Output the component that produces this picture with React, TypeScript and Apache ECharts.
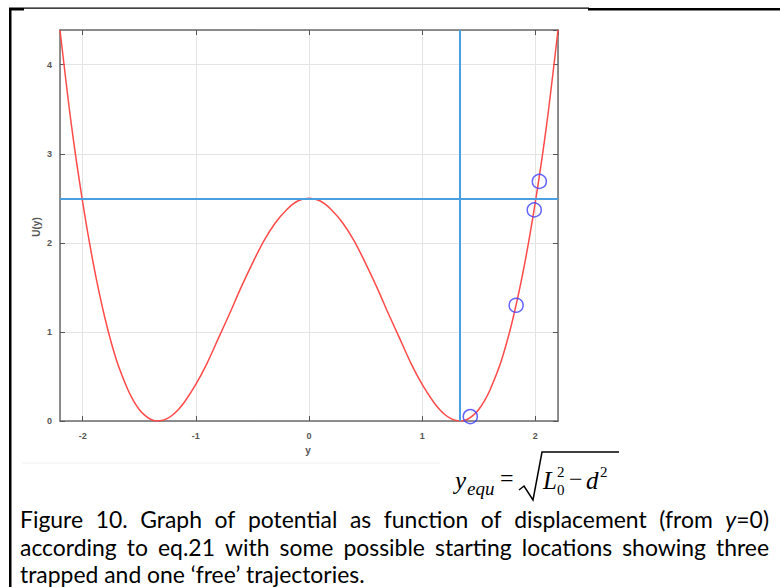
import { useEffect, useRef } from "react";
import * as echarts from "echarts";

// Displacement y (x-axis) and potential U(y)
const yValues = [
  -2.2, -2.1, -2.0, -1.9, -1.8, -1.7, -1.6, -1.55, -1.5, -1.45, -1.4, -1.35, -1.3, -1.25, -1.2, -1.15, -1.1, -1.0,
  -0.9, -0.8, -0.7, -0.6, -0.5, -0.4, -0.3, -0.2, -0.1, 0, 0.1, 0.2, 0.3, 0.4, 0.5, 0.6, 0.7, 0.8, 0.9, 1.0,
  1.1, 1.15, 1.2, 1.25, 1.3, 1.35, 1.4, 1.45, 1.5, 1.55, 1.6, 1.7, 1.8, 1.9, 2.0, 2.1, 2.2,
];
const uValues = [
  4.39, 3.33, 2.46, 1.73, 1.14, 0.68, 0.35, 0.226, 0.13, 0.063, 0.02, 0.001, 0.005, 0.029, 0.073, 0.135, 0.213, 0.41,
  0.65, 0.93, 1.21, 1.5, 1.77, 2.02, 2.22, 2.37, 2.47, 2.5, 2.47, 2.37, 2.22, 2.02, 1.77, 1.5, 1.21, 0.93, 0.65, 0.41,
  0.213, 0.135, 0.073, 0.029, 0.005, 0.001, 0.02, 0.063, 0.13, 0.226, 0.35, 0.68, 1.14, 1.73, 2.46, 3.33, 4.39,
];

// Starting locations (blue circles)
const startY = [1.425, 1.83, 1.99, 2.035];
const startU = [0.05, 1.3, 2.37, 2.69];

// Reference lines
const barrierU = 2.5;
const equilibriumY = 1.333;

// Axis names
const xAxisName = "y";
const yAxisName = "U(y)";

// Caption
const captionLines = [
  "Figure 10. Graph of potential as function of displacement (from y=0)",
  "according to eq.21 with some possible starting locations showing three",
  "trapped and one \u2018free\u2019 trajectories.",
];

export default function App() {
  const ref = useRef<HTMLDivElement>(null);

  useEffect(() => {
    const chart = echarts.init(ref.current!, null, { renderer: "svg" });

    const capFamily = "Lato";
    const canvas = document.createElement("canvas");
    const ctx = canvas.getContext("2d")!;
    const measure = (t: string, size: number, italic = false) => {
      ctx.font = `${italic ? "italic " : ""}${size}px ${capFamily}`;
      return ctx.measureText(t).width;
    };
    const w3 = measure(captionLines[2], 19);
    const capSize = Math.min(23, Math.max(16, (19 * 345) / w3));

    const capLeft = 20;
    const capRight = 769;
    const lineY = [519, 547, 574];
    const captionEls: any[] = [];
    captionLines.forEach((line, li) => {
      if (li === captionLines.length - 1) {
        captionEls.push({
          type: "text",
          x: capLeft,
          y: lineY[li],
          style: { text: line, fontSize: capSize, fontFamily: capFamily, fill: "#000", verticalAlign: "middle", align: "left" },
        });
        return;
      }
      const words = line.split(" ");
      const widths = words.map((w) => {
        if (w === "y=0)") return measure("y", capSize, true) + measure("=0)", capSize);
        return measure(w, capSize);
      });
      const total = widths.reduce((a, b) => a + b, 0);
      const gap = (capRight - capLeft - total) / (words.length - 1);
      let x = capLeft;
      words.forEach((w, i) => {
        if (w === "y=0)") {
          const wy = measure("y", capSize, true);
          captionEls.push({
            type: "text",
            x,
            y: lineY[li],
            style: { text: "y", fontSize: capSize, fontStyle: "italic", fontFamily: capFamily, fill: "#000", verticalAlign: "middle", align: "left" },
          });
          captionEls.push({
            type: "text",
            x: x + wy,
            y: lineY[li],
            style: { text: "=0)", fontSize: capSize, fontFamily: capFamily, fill: "#000", verticalAlign: "middle", align: "left" },
          });
        } else {
          captionEls.push({
            type: "text",
            x,
            y: lineY[li],
            style: { text: w, fontSize: capSize, fontFamily: capFamily, fill: "#000", verticalAlign: "middle", align: "left" },
          });
        }
        x += widths[i] + gap;
      });
    });

    const serif = "Liberation Serif";
    const eqText = (text: string, x: number, y: number, size: number, italic: boolean) => ({
      type: "text",
      x,
      y,
      style: {
        text,
        fontSize: size,
        fontStyle: italic ? "italic" : "normal",
        fontFamily: serif,
        fill: "#000",
        verticalAlign: "middle",
        align: "left",
      },
    });

    const equationEls: any[] = [
      eqText("y", 455, 480, 25, true),
      eqText("equ", 467, 488, 19, true),
      eqText("=", 500, 478, 24, false),
      {
        type: "polyline",
        shape: { points: [[519, 490], [524, 486], [533, 500], [542, 452], [619, 452]] },
        style: { stroke: "#000", lineWidth: 1.5, fill: "none" },
      },
      eqText("L", 543, 480, 25, true),
      eqText("2", 557, 472, 15, false),
      eqText("0", 557, 490, 15, false),
      eqText("\u2212", 569, 479, 24, false),
      eqText("d", 586, 480, 25, true),
      eqText("2", 600, 472, 15, false),
    ];

    const axisLineStyle = { color: "#6b6b6b", width: 1.5 };
    const tickStyle = { color: "#555", width: 1 };
    const labelStyle = { fontSize: 9, color: "#555", fontFamily: "Liberation Sans", fontWeight: "bold" as const };

    chart.setOption({
      animation: false,
      backgroundColor: "#fff",
      grid: { left: 60, right: 222, top: 30, bottom: 166, containLabel: false },
      xAxis: [
        {
          type: "value",
          min: -2.2,
          max: 2.2,
          splitNumber: 4,
          position: "bottom",
          axisLine: { show: true, onZero: false, lineStyle: axisLineStyle },
          axisTick: { show: true, inside: true, length: 5, lineStyle: tickStyle },
          axisLabel: { ...labelStyle, showMinLabel: false, showMaxLabel: false, margin: 10 },
          splitLine: { show: true, lineStyle: { color: "#e4e4e4", width: 1 } },
        },
        {
          type: "value",
          min: -2.2,
          max: 2.2,
          splitNumber: 4,
          position: "top",
          axisLine: { show: true, onZero: false, lineStyle: axisLineStyle },
          axisTick: { show: true, inside: true, length: 5, lineStyle: tickStyle },
          axisLabel: { show: false },
          splitLine: { show: false },
        },
      ],
      yAxis: [
        {
          type: "value",
          min: 0,
          max: 4.39,
          splitNumber: 5,
          position: "left",
          axisLine: { show: true, onZero: false, lineStyle: axisLineStyle },
          axisTick: { show: true, inside: true, length: 5, lineStyle: tickStyle },
          axisLabel: { ...labelStyle, showMinLabel: true, showMaxLabel: false, margin: 8 },
          splitLine: { show: true, lineStyle: { color: "#e4e4e4", width: 1 } },
        },
        {
          type: "value",
          min: 0,
          max: 4.39,
          splitNumber: 5,
          position: "right",
          axisLine: { show: true, onZero: false, lineStyle: axisLineStyle },
          axisTick: { show: true, inside: true, length: 5, lineStyle: tickStyle },
          axisLabel: { show: false },
          splitLine: { show: false },
        },
      ],
      series: [
        {
          type: "line",
          xAxisIndex: 0,
          yAxisIndex: 0,
          data: yValues.map((y, i) => [y, uValues[i]]),
          symbol: "none",
          smooth: 0.3,
          lineStyle: { color: "#ff4a4a", width: 1.5 },
          markLine: {
            silent: true,
            symbol: ["none", "none"],
            label: { show: false },
            lineStyle: { color: "#4a9fe0", width: 2, type: "solid" },
            data: [{ yAxis: barrierU }, { xAxis: equilibriumY }],
          },
        },
        {
          type: "scatter",
          xAxisIndex: 0,
          yAxisIndex: 0,
          data: startY.map((y, i) => [y, startU[i]]),
          symbol: "circle",
          symbolSize: 14,
          itemStyle: { color: "rgba(0,0,0,0)", borderColor: "#3c3cff", borderWidth: 1.5 },
          z: 5,
        },
      ],
      graphic: [
        { type: "rect", shape: { x: 9, y: 8, width: 2.5, height: 579 }, style: { fill: "#000" } },
        { type: "rect", shape: { x: 9, y: 7.5, width: 580, height: 1.2 }, style: { fill: "#000" } },
        { type: "rect", shape: { x: 9, y: 8, width: 15, height: 2.5 }, style: { fill: "#000" } },
        { type: "rect", shape: { x: 588, y: 8, width: 192, height: 2.5 }, style: { fill: "#000" } },
        { type: "line", shape: { x1: 22, y1: 463, x2: 440, y2: 463 }, style: { stroke: "#f0f0f0", lineWidth: 1 } },
        {
          type: "text",
          x: 308,
          y: 450,
          style: { text: xAxisName, fontSize: 10, fontWeight: "bold", fontFamily: "Liberation Sans", fill: "#555", align: "center", verticalAlign: "middle" },
        },
        {
          type: "text",
          x: 36,
          y: 227,
          rotation: Math.PI / 2,
          style: { text: yAxisName, fontSize: 10, fontWeight: "bold", fontFamily: "Liberation Sans", fill: "#555", align: "center", verticalAlign: "middle" },
        },
        ...equationEls,
        ...captionEls,
      ],
    });

    return () => chart.dispose();
  }, []);

  return (
    <div
      ref={ref}
      style={{ position: "absolute", left: 0, top: 0, width: 780, height: 587, background: "#fff" }}
    />
  );
}
